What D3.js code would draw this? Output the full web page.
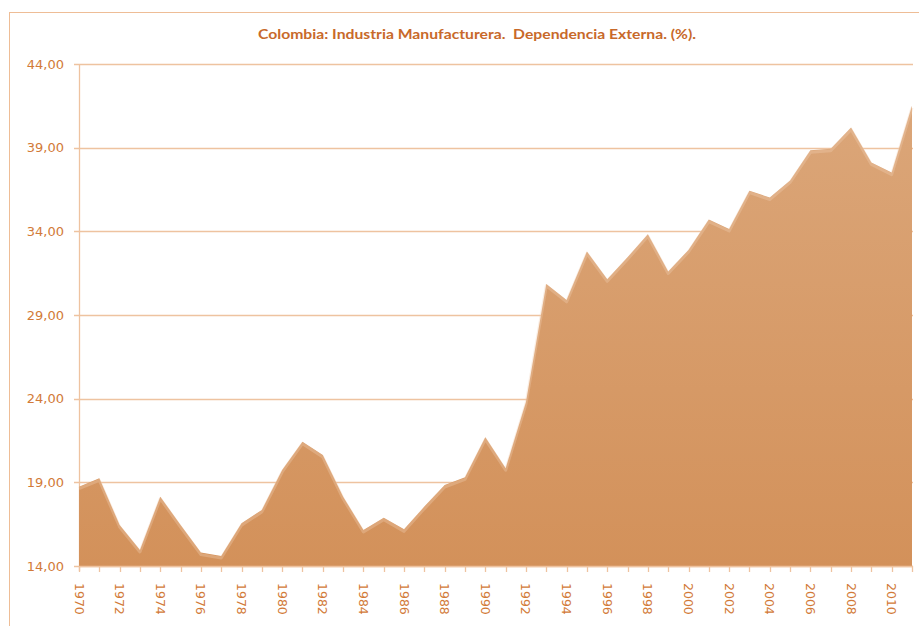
<!DOCTYPE html>
<html>
<head>
<meta charset="utf-8">
<script src="https://cdn.jsdelivr.net/npm/d3@7"></script>
<style>
  body { margin: 0; background: #fff; }
  svg { display: block; }
</style>
</head>
<body>
<svg width="919" height="626"></svg>
<script>
// años y valores (%)
var anios = d3.range(1970, 2012);
var valores = [18.74, 19.24, 16.45, 14.96, 18.14, 16.45, 14.8, 14.6, 16.55, 17.35,
               19.74, 21.43, 20.63, 18.14, 16.15, 16.89, 16.19, 17.55, 18.84, 19.3,
               21.69, 19.84, 23.8, 30.86, 29.9, 32.79, 31.13, 32.45, 33.83, 31.6,
               32.89, 34.7, 34.14, 36.43, 36.02, 37.04, 38.84, 38.94, 40.2, 38.12,
               37.51, 41.5];
var yTicks = [14, 19, 24, 29, 34, 39, 44];
var xLabels = d3.range(1970, 2012, 2);

var titulo = 'Colombia: Industria Manufacturera.  Dependencia Externa. (%).';

var svg = d3.select('svg');
var izq = 79, der = 912, arriba = 64, abajo = 566;

var x = d3.scaleLinear().domain([1970, 2011]).range([izq, der]);
var y = d3.scaleLinear().domain([14, 44]).range([abajo, arriba]);

var colorTexto = '#d27a38';
var colorLinea = '#eec3a0';

// marco del gráfico
svg.append('rect').attr('x', 9.5).attr('y', 12.5).attr('width', 940).attr('height', 640)
    .attr('fill', 'none').attr('stroke', '#eebd96').attr('stroke-width', 1);

// titulo
svg.append('text').attr('x', 477).attr('y', 39).attr('text-anchor', 'middle')
    .style('white-space', 'pre')
    .attr('font-family', 'Lato, sans-serif').attr('font-weight', 'bold').attr('font-size', 13)
    .attr('fill', '#c8692a').attr('textLength', 438).attr('lengthAdjust', 'spacingAndGlyphs')
    .text(titulo);

// degradado del área
var grad = svg.append('defs').append('linearGradient').attr('id', 'relleno')
    .attr('x1', 0).attr('y1', 0).attr('x2', 0).attr('y2', 1);
grad.append('stop').attr('offset', '0%').attr('stop-color', '#dba679');
grad.append('stop').attr('offset', '100%').attr('stop-color', '#d3915a');

// lineas de cuadricula
svg.append('g').selectAll('line').data(yTicks).join('line')
    .attr('x1', izq - 5).attr('x2', der + 1)
    .attr('y1', d => Math.round(y(d)) + 0.5).attr('y2', d => Math.round(y(d)) + 0.5)
    .attr('stroke', colorLinea).attr('stroke-width', 1.3);

// eje y
svg.append('line').attr('x1', izq + 0.5).attr('x2', izq + 0.5).attr('y1', arriba).attr('y2', abajo + 5)
    .attr('stroke', colorLinea).attr('stroke-width', 1.3);

svg.append('g').selectAll('text').data(yTicks).join('text')
    .attr('x', 64).attr('y', d => y(d)).attr('dy', '0.36em').attr('text-anchor', 'end')
    .attr('font-family', 'DejaVu Sans, sans-serif').attr('font-size', 13).attr('fill', colorTexto)
    .text(d => d3.format('.2f')(d).replace('.', ','));

// área
var datos = anios.map((a, i) => ({ anio: a, valor: valores[i] }));
var area = d3.area().x(d => x(d.anio)).y0(abajo).y1(d => y(d.valor));
var linea = d3.line().x(d => x(d.anio)).y(d => y(d.valor));

svg.append('path').datum(datos).attr('d', area).attr('fill', 'url(#relleno)');

// brillo del borde superior (efecto bisel)
svg.append('path').datum(datos).attr('d', linea).attr('transform', 'translate(0,2)')
    .attr('fill', 'none').attr('stroke', '#f1cfb2').attr('stroke-width', 3)
    .attr('stroke-opacity', 0.35).attr('stroke-linejoin', 'round');

// eje x
svg.append('line').attr('x1', izq).attr('x2', der + 1).attr('y1', abajo + 0.5).attr('y2', abajo + 0.5)
    .attr('stroke', colorLinea).attr('stroke-width', 1.3);

svg.append('g').selectAll('line').data(anios).join('line')
    .attr('x1', d => Math.round(x(d)) + 0.5).attr('x2', d => Math.round(x(d)) + 0.5)
    .attr('y1', abajo).attr('y2', abajo + 6)
    .attr('stroke', colorLinea).attr('stroke-width', 1.3);

svg.append('g').selectAll('text').data(xLabels).join('text')
    .attr('transform', d => 'translate(' + x(d) + ',583) rotate(90)')
    .attr('dy', '0.36em')
    .attr('font-family', 'DejaVu Sans, sans-serif').attr('font-size', 12.5).attr('fill', colorTexto)
    .text(d => d);
</script>
</body>
</html>
